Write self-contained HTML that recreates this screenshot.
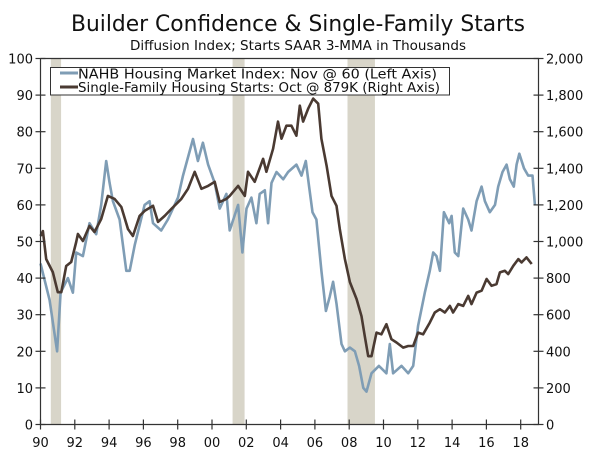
<!DOCTYPE html>
<html><head><meta charset="utf-8"><style>
html,body{margin:0;padding:0;background:#fff;}
svg{display:block;font-family:"DejaVu Sans","Liberation Sans",sans-serif;}
</style></head><body>
<svg id="chart" width="600" height="461" viewBox="0 0 600 461" xmlns="http://www.w3.org/2000/svg">
<text x="298" y="31" text-anchor="middle" font-size="22" fill="#111" textLength="454" lengthAdjust="spacingAndGlyphs">Builder Confidence &amp; Single-Family Starts</text>
<text x="298" y="50" text-anchor="middle" font-size="13" fill="#111" textLength="336" lengthAdjust="spacingAndGlyphs">Diffusion Index; Starts SAAR 3-MMA in Thousands</text>
<g id="rec"></g>
<g id="series"></g>
<g id="axes"></g>
<g>
<rect x="50.5" y="67.5" width="399" height="27.5" fill="#fff" stroke="#333" stroke-width="1"/>
<line x1="60" y1="73" x2="78" y2="73" stroke="#7f9db5" stroke-width="3"/>
<text x="78" y="78.5" font-size="13" fill="#111" textLength="359" lengthAdjust="spacingAndGlyphs">NAHB Housing Market Index: Nov @ 60 (Left Axis)</text>
<line x1="60" y1="87" x2="78" y2="87" stroke="#4a3a32" stroke-width="3"/>
<text x="78" y="92" font-size="13" fill="#111" textLength="362" lengthAdjust="spacingAndGlyphs">Single-Family Housing Starts: Oct @ 879K (Right Axis)</text>
</g>
</svg>
<script>
const recessions = [[1990.6,1991.2],[2001.2,2001.9],[2007.9,2009.5]];
const nahbYears = [1990.0,1990.53,1990.97,1991.17,1991.6,1991.89,1992.08,1992.47,1992.86,1993.25,1993.54,1993.83,1994.03,1994.22,1994.61,1995.0,1995.2,1995.49,1996.07,1996.36,1996.56,1997.04,1997.43,1998.02,1998.31,1998.89,1999.18,1999.47,1999.77,2000.16,2000.45,2000.84,2001.03,2001.52,2001.77,2002.01,2002.3,2002.59,2002.78,2003.08,2003.27,2003.47,2003.76,2004.15,2004.44,2004.92,2005.22,2005.47,2005.66,2005.86,2006.09,2006.38,2006.64,2006.87,2007.06,2007.26,2007.55,2007.75,2008.04,2008.33,2008.58,2008.82,2009.01,2009.3,2009.73,2010.17,2010.37,2010.56,2011.05,2011.44,2011.73,2012.02,2012.41,2012.7,2012.9,2013.09,2013.29,2013.52,2013.83,2013.97,2014.16,2014.36,2014.65,2014.94,2015.13,2015.43,2015.72,2015.91,2016.2,2016.5,2016.69,2016.94,2017.18,2017.37,2017.6,2017.76,2017.92,2018.19,2018.44,2018.69,2018.83];
const nahbValues = [44,34,20,36,40,36,47,46,55,52,60,72,66,61,56,42,42,49,60,61,55,53,56,62,68,78,72,77,71,66,59,63,53,60,47,59,62,55,63,64,55,66,69,67,69,71,68,72,65,58,56,42,31,35,39,33,22,20,21,20,16,10,9,14,16,14,22,14,16,14,16,27,36,42,47,46,42,58,55,57,47,46,59,56,53,61,65,61,58,60,65,69,71,67,65,71,74,70,68,68,60];
const startsYears = [1990.0,1990.14,1990.33,1990.72,1991.01,1991.21,1991.5,1991.79,1992.08,1992.18,1992.47,1992.86,1993.15,1993.54,1993.93,1994.32,1994.71,1995.1,1995.39,1995.78,1996.07,1996.56,1996.85,1997.24,1997.63,1998.21,1998.6,1998.99,1999.38,1999.77,2000.16,2000.45,2000.84,2001.03,2001.52,2001.91,2002.1,2002.49,2002.98,2003.17,2003.56,2003.85,2004.05,2004.34,2004.63,2004.92,2005.12,2005.31,2005.61,2005.9,2006.19,2006.38,2006.68,2006.97,2007.26,2007.45,2007.75,2008.04,2008.43,2008.72,2008.91,2009.11,2009.3,2009.59,2009.88,2010.17,2010.46,2010.76,2011.15,2011.44,2011.73,2012.02,2012.31,2012.7,2012.99,2013.29,2013.58,2013.87,2014.06,2014.36,2014.65,2014.94,2015.13,2015.43,2015.72,2016.01,2016.3,2016.59,2016.79,2017.08,2017.27,2017.57,2017.86,2018.05,2018.34,2018.64,2018.77];
const startsValues = [1030,1057,904,833,723,723,866,888,997,1041,1003,1085,1052,1123,1249,1233,1189,1068,1030,1140,1167,1195,1107,1140,1178,1233,1288,1381,1288,1304,1326,1216,1233,1249,1304,1249,1381,1326,1452,1381,1507,1655,1562,1633,1633,1578,1742,1655,1726,1781,1753,1562,1414,1249,1195,1068,904,778,685,592,482,373,373,502,493,548,466,448,420,429,429,502,493,557,612,630,612,648,612,658,648,703,658,721,731,795,758,767,831,840,822,867,904,886,913,877];
const xTickLabels = ["90","92","94","96","98","00","02","04","06","08","10","12","14","16","18"];
const leftTickLabels = ["0","10","20","30","40","50","60","70","80","90","100"];
const rightTickLabels = ["0","200","400","600","800","1,000","1,200","1,400","1,600","1,800","2,000"];

const NS="http://www.w3.org/2000/svg";
const X0=40.5, PY=17.15, XR=538.5, Y0=424.5, YT=58.5;
function xs(yr){return X0+(yr-1990)*PY;}
function yl(v){return Y0-(Y0-YT)*v/100;}
function yr(v){return Y0-(Y0-YT)*v/2000;}
function mk(tag,attrs,parent){const e=document.createElementNS(NS,tag);for(const k in attrs)e.setAttribute(k,attrs[k]);parent.appendChild(e);return e;}
const rec=document.getElementById('rec'), ser=document.getElementById('series'), ax=document.getElementById('axes');
recessions.forEach((r,i)=>{
  const e=mk('rect',{x:xs(r[0]),y:YT,width:xs(r[1])-xs(r[0]),height:Y0-YT,fill:'#d8d5c9'},rec);
  
  
});
let d1=nahbYears.map((y,i)=>(i?'L':'M')+xs(y).toFixed(1)+' '+yl(nahbValues[i]).toFixed(1)).join(' ');
const p1=mk('path',{d:d1,fill:'none',stroke:'#7f9db5','stroke-width':2.6,'stroke-linejoin':'round'},ser);


let d2=startsYears.map((y,i)=>(i?'L':'M')+xs(y).toFixed(1)+' '+yr(startsValues[i]).toFixed(1)).join(' ');
const p2=mk('path',{d:d2,fill:'none',stroke:'#4a3a32','stroke-width':2.6,'stroke-linejoin':'round'},ser);


const st={stroke:'#333','stroke-width':1.2};
const fr=mk('path',Object.assign({d:`M${X0} ${YT}L${X0} ${Y0}L${XR} ${Y0}L${XR} ${YT}L${X0} ${YT}`,fill:'none'},st),ax);


leftTickLabels.forEach((t,i)=>{
  const y=yl(i*10);
  mk('line',Object.assign({x1:X0-5,x2:X0+5,y1:y,y2:y},st),ax);
  const e=mk('text',{x:33,y:y+5,'text-anchor':'end','font-size':13,fill:'#111'},ax);
  e.textContent=t;
  
  
});
rightTickLabels.forEach((t,i)=>{
  const y=yr(i*200);
  mk('line',Object.assign({x1:XR-5,x2:XR+5,y1:y,y2:y},st),ax);
  const e=mk('text',{x:546,y:y+5,'text-anchor':'start','font-size':13,fill:'#111'},ax);
  e.textContent=t;
  
  
});
xTickLabels.forEach((t,i)=>{
  const x=xs(1990+i*2);
  mk('line',Object.assign({x1:x,x2:x,y1:Y0-5,y2:Y0+5},st),ax);
  const e=mk('text',{x:x,y:447,'text-anchor':'middle','font-size':13,fill:'#111'},ax);
  e.textContent=t;
  
  
});
</script>
</body></html>
